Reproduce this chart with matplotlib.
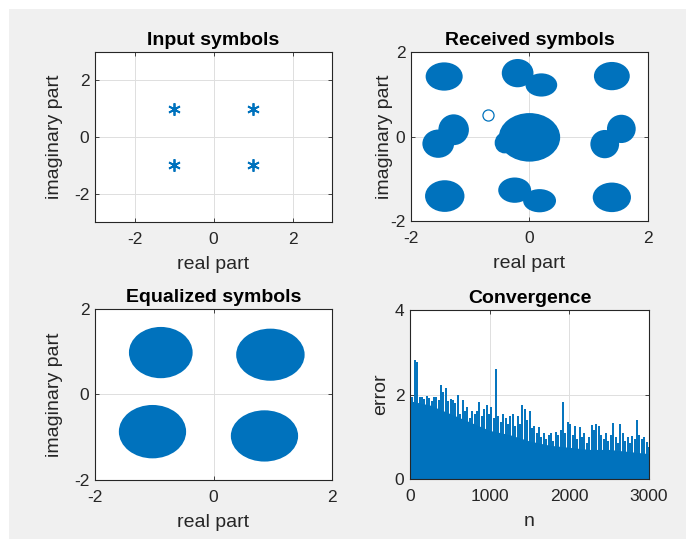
import numpy as np
import matplotlib.pyplot as plt
from matplotlib.patches import Ellipse, Rectangle

plt.rcParams['font.family'] = ['Liberation Sans', 'DejaVu Sans']
plt.rcParams['axes.unicode_minus'] = False

blue = '#0072BD'
txt = '#262626'

# transmitted QPSK symbols
tx_re = [-1, -1, 1, 1]
tx_im = [1, -1, 1, -1]

# received sample clouds: centre, width, height of each blob
rx_re = [-1.44, -0.20, 0.20, 1.39, -1.28, -1.54, 0.00, -0.42, 1.55, 1.27, -1.43, -0.25, 0.17, 1.39]
rx_im = [1.42, 1.50, 1.22, 1.43, 0.16, -0.17, -0.02, -0.15, 0.18, -0.18, -1.41, -1.27, -1.52, -1.44]
rx_w = [0.59, 0.50, 0.50, 0.57, 0.48, 0.50, 1.00, 0.30, 0.45, 0.45, 0.63, 0.52, 0.52, 0.61]
rx_h = [0.62, 0.62, 0.50, 0.62, 0.68, 0.62, 1.10, 0.45, 0.62, 0.62, 0.70, 0.55, 0.50, 0.65]

# single stray received sample
stray_re = [-0.70]
stray_im = [0.51]

# equalized sample clouds
eq_re = [-0.89, 0.96, -1.03, 0.86]
eq_im = [0.98, 0.93, -0.87, -0.97]
eq_w = [1.04, 1.12, 1.10, 1.10]
eq_h = [1.15, 1.17, 1.20, 1.15]

# error magnitude: dense band level and spike tops
band_n = [0, 250, 500, 750, 1000, 1250, 1500, 1750, 2000, 2250, 2500, 2750, 3000]
band_err = [1.85, 1.75, 1.55, 1.35, 1.15, 1.05, 0.90, 0.80, 0.75, 0.70, 0.70, 0.65, 0.60]
spike_n = np.arange(0, 3001, 30)
spike_err = [1.97, 1.95, 2.82, 2.78, 1.93, 1.95, 1.90, 1.96, 1.92, 1.85,
             1.93, 1.95, 1.88, 2.22, 2.05, 2.15, 1.85, 1.90, 1.88, 1.80,
             1.98, 1.55, 1.87, 1.60, 1.70, 1.45, 1.60, 1.55, 1.62, 1.83,
             1.50, 1.65, 1.75, 1.55, 1.70, 1.45, 2.60, 1.50, 1.35, 1.55,
             1.45, 1.30, 1.50, 1.55, 1.25, 1.50, 1.30, 1.75, 1.65, 1.40,
             1.62, 1.20, 1.25, 1.10, 1.22, 1.00, 1.08, 0.95, 1.05, 1.08,
             0.90, 1.12, 1.05, 1.15, 1.83, 1.10, 1.36, 1.30, 1.05, 1.25,
             0.95, 1.22, 1.00, 1.10, 0.85, 1.00, 1.28, 1.15, 1.30, 1.25,
             1.05, 0.95, 1.08, 0.90, 1.05, 1.32, 1.00, 0.85, 1.30, 1.10,
             0.90, 1.00, 0.85, 1.02, 0.95, 1.40, 1.05, 0.95, 1.00, 0.88,
             0.75]


def style(ax, xlim, ylim, xticks, yticks, title, xlabel, ylabel, ylab_x):
    ax.set_xlim(xlim)
    ax.set_ylim(ylim)
    ax.set_xticks(xticks)
    ax.set_yticks(yticks)
    ax.grid(True, color='#dedede', linewidth=0.7)
    ax.set_axisbelow(True)
    ax.tick_params(direction='in', length=3, width=0.6, colors=txt,
                   labelsize=12.5, top=True, right=True, labeltop=False, labelright=False)
    ax.tick_params(axis='x', pad=7)
    ax.tick_params(axis='y', pad=4)
    for s in ax.spines.values():
        s.set_color(txt)
        s.set_linewidth(0.8)
    ax.set_title(title, fontsize=14, fontweight='bold', pad=5)
    ax.set_xlabel(xlabel, fontsize=14, color=txt, va='center')
    ax.set_ylabel(ylabel, fontsize=14, color=txt, va='center')
    ax.xaxis.set_label_coords(0.5, -0.25)
    ax.yaxis.set_label_coords(ylab_x, 0.5)


def blobs(ax, re, im, w, h):
    for i in range(len(re)):
        e = Ellipse((re[i], im[i]), w[i], h[i], facecolor=blue,
                    edgecolor=blue, linewidth=1.5, zorder=2)
        ax.add_patch(e)


if __name__ == '__main__':
    fig = plt.figure(figsize=(6.86, 5.39), dpi=100, facecolor='#f0f0f0')
    # thin white strip along the top and left edge
    fig.patches.append(Rectangle((0, 1 - 9 / 539), 1, 9 / 539, transform=fig.transFigure,
                                 facecolor='white', edgecolor='none'))
    fig.patches.append(Rectangle((0, 0), 9 / 686, 1, transform=fig.transFigure,
                                 facecolor='white', edgecolor='none'))

    ax1 = fig.add_axes([0.1385, 0.5881, 0.3455, 0.3154])
    ax2 = fig.add_axes([0.5991, 0.5900, 0.3455, 0.3135])
    ax3 = fig.add_axes([0.1385, 0.1095, 0.3455, 0.3173])
    ax4 = fig.add_axes([0.5977, 0.1113, 0.3484, 0.3135])

    ax1.plot(tx_re, tx_im, linestyle='none', marker=(6, 2, 0), markersize=9,
             markeredgewidth=1.3, color=blue)
    style(ax1, (-3, 3), (-3, 3), [-2, 0, 2], [-2, 0, 2],
          'Input symbols', 'real part', 'imaginary part', -0.169)

    blobs(ax2, rx_re, rx_im, rx_w, rx_h)
    ax2.plot(stray_re, stray_im, linestyle='none', marker='o', markersize=8,
             markerfacecolor='none', markeredgewidth=0.9, color=blue)
    style(ax2, (-2, 2), (-2, 2), [-2, 0, 2], [-2, 0, 2],
          'Received symbols', 'real part', 'imaginary part', -0.11)

    blobs(ax3, eq_re, eq_im, eq_w, eq_h)
    style(ax3, (-2, 2), (-2, 2), [-2, 0, 2], [-2, 0, 2],
          'Equalized symbols', 'real part', 'imaginary part', -0.169)

    ax4.fill_between(band_n, 0, band_err, color=blue, linewidth=0, zorder=2)
    ax4.vlines(spike_n, 0, spike_err, color=blue, linewidth=1.4, zorder=2)
    style(ax4, (0, 3000), (0, 4), [0, 1000, 2000, 3000], [0, 2, 4],
          'Convergence', 'n', 'error', -0.121)

    fig.savefig('out.png', dpi=100, facecolor=fig.get_facecolor())
